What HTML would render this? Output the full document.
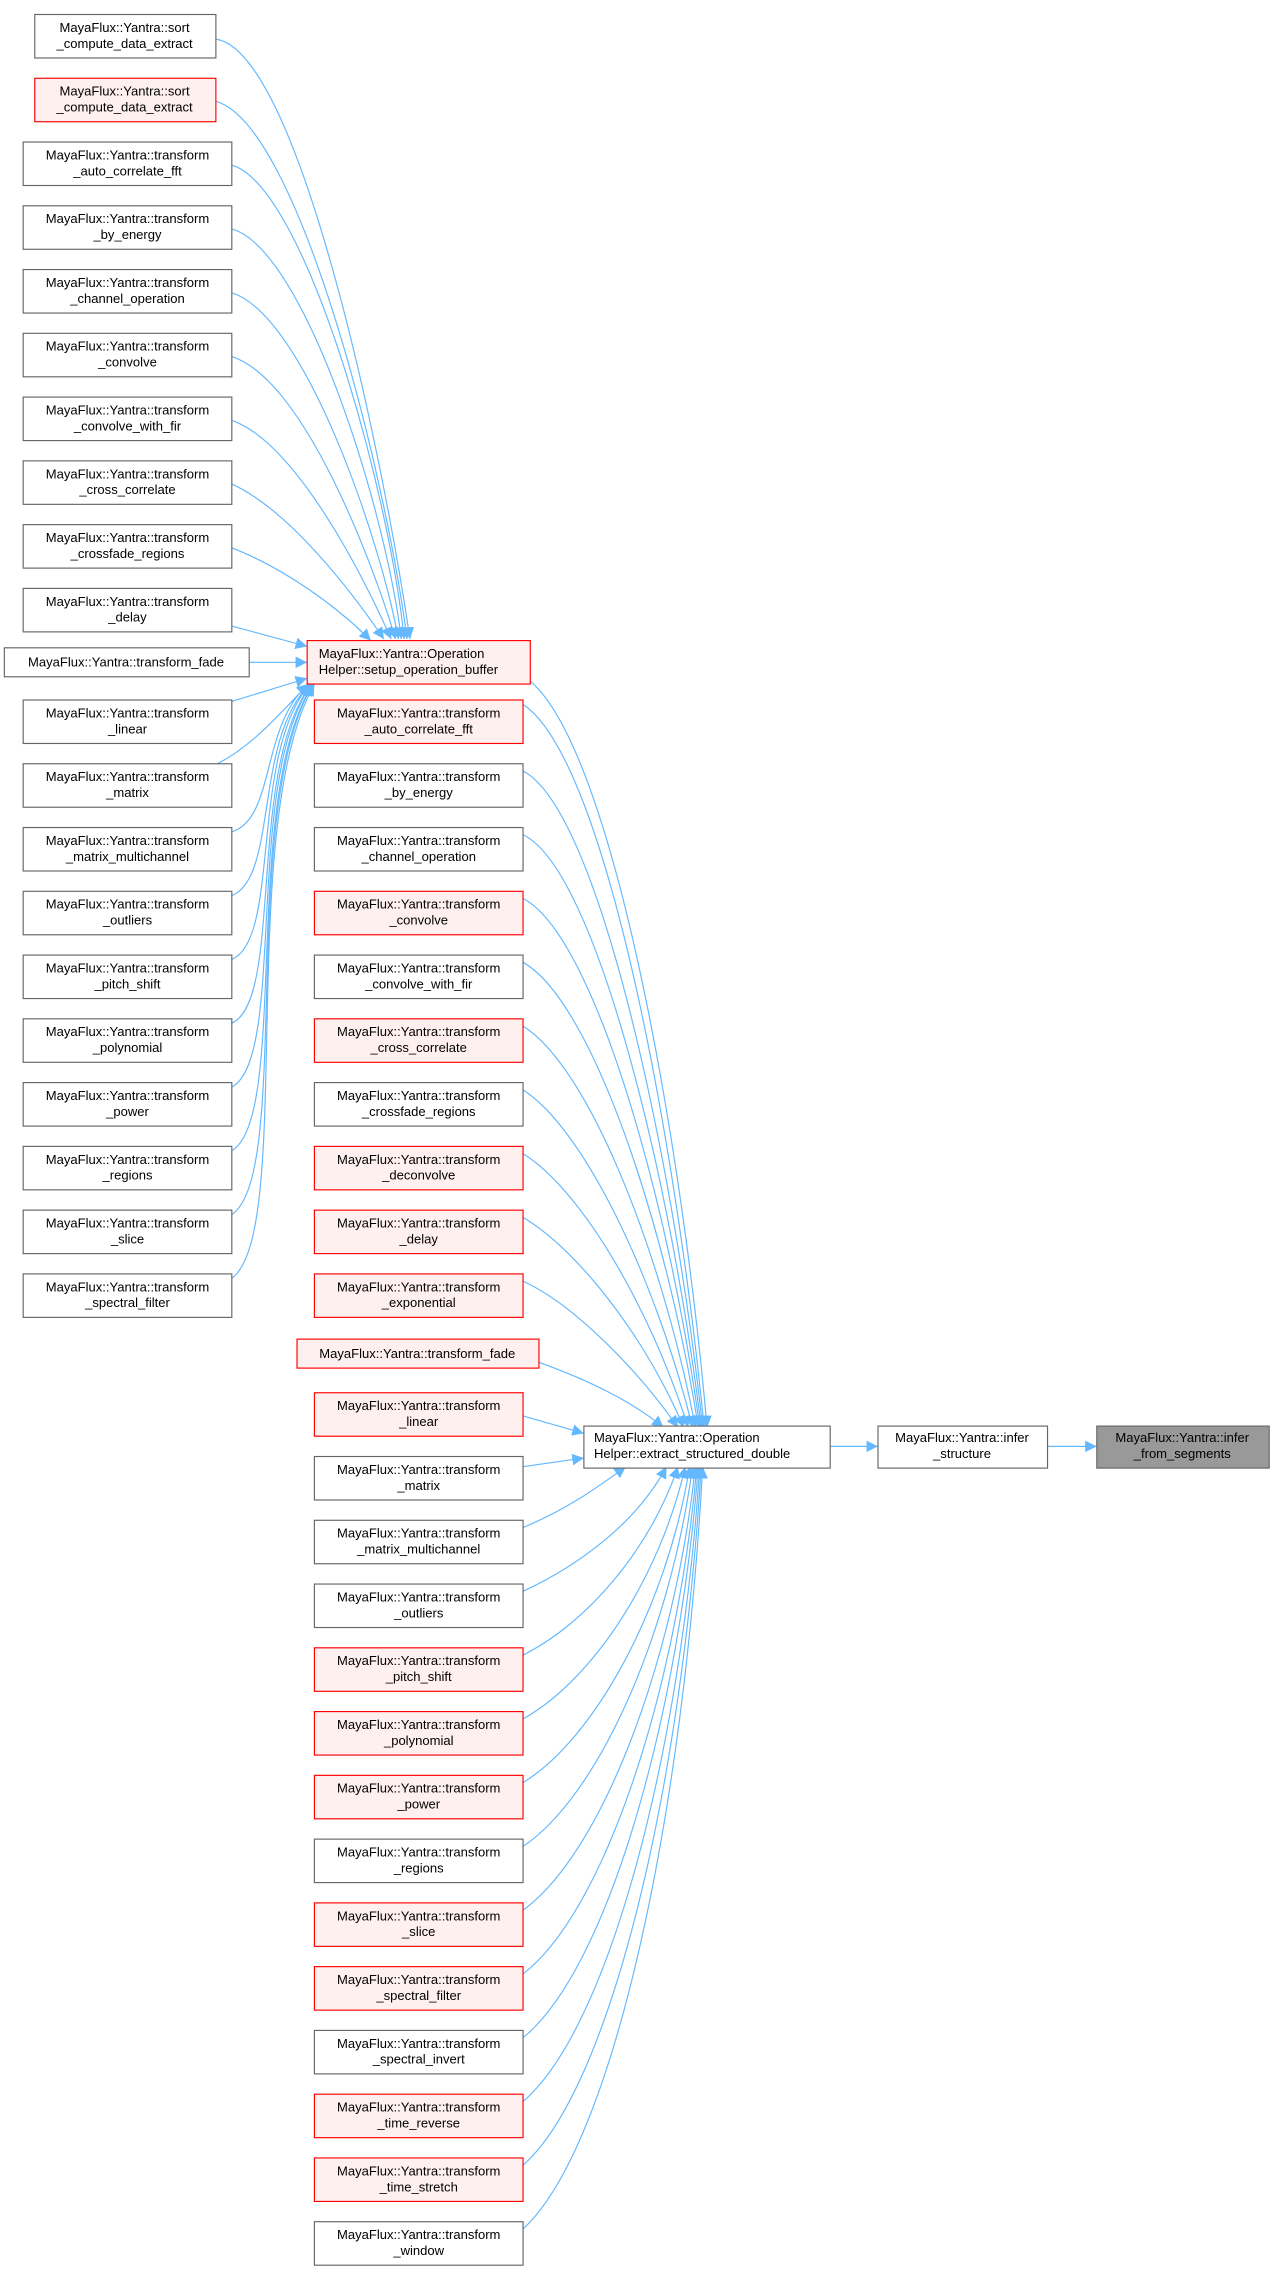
<!DOCTYPE html>
<html><head><meta charset="utf-8"><style>
html,body{margin:0;padding:0;background:#fff;}
svg{display:block;}
text{font-family:"Liberation Sans","DejaVu Sans",sans-serif;font-size:9px;fill:#000;text-anchor:middle;}
.n{fill:#fff;stroke:#666;stroke-width:0.8;}
.r{fill:#fff0f0;stroke:#ff0000;stroke-width:0.8;}
.g{fill:#999;stroke:#666;stroke-width:0.8;}
.e{fill:none;stroke:#63b8ff;stroke-width:0.8;}
</style></head><body>
<svg width="1275" height="2271" viewBox="0 0 880 1567" preserveAspectRatio="none" xmlns="http://www.w3.org/2000/svg">
<defs><marker id="a" markerUnits="userSpaceOnUse" markerWidth="9" markerHeight="8" refX="8" refY="4" orient="auto"><path d="M0,0 L8,4 L0,8 z" fill="#63b8ff"/></marker></defs>

<g class="edges">
<path class="e" marker-end="url(#a)" d="M149,27 C205,35 262,300 283,441"/>
<path class="e" marker-end="url(#a)" d="M149,70 C205,85 265,320 281,441"/>
<path class="e" marker-end="url(#a)" d="M160,114 C210,128 268,335 279,441"/>
<path class="e" marker-end="url(#a)" d="M160,158 C210,172 266,350 277,441"/>
<path class="e" marker-end="url(#a)" d="M160,202 C210,218 262,370 275,441"/>
<path class="e" marker-end="url(#a)" d="M160,246 C210,262 258,390 273,441"/>
<path class="e" marker-end="url(#a)" d="M160,290 C205,306 252,400 270,441"/>
<path class="e" marker-end="url(#a)" d="M160,334 C200,352 244,410 265,441"/>
<path class="e" marker-end="url(#a)" d="M160,378 C196,392 232,418 256,442"/>
<path class="e" marker-end="url(#a)" d="M160,432 L212,446"/>
<path class="e" marker-end="url(#a)" d="M172,457 L212,457"/>
<path class="e" marker-end="url(#a)" d="M160,484 L212,468"/>
<path class="e" marker-end="url(#a)" d="M148,528 C175,515 195,490 213,472"/>
<path class="e" marker-end="url(#a)" d="M160,574 C190,565 180,500 213,472"/>
<path class="e" marker-end="url(#a)" d="M160,618 C192,605 175,510 214,472"/>
<path class="e" marker-end="url(#a)" d="M160,662 C194,648 172,520 214,472"/>
<path class="e" marker-end="url(#a)" d="M160,706 C196,690 170,530 215,472"/>
<path class="e" marker-end="url(#a)" d="M160,750 C198,730 168,540 215,472"/>
<path class="e" marker-end="url(#a)" d="M160,794 C200,770 166,550 216,472"/>
<path class="e" marker-end="url(#a)" d="M160,838 C202,810 164,560 216,472"/>
<path class="e" marker-end="url(#a)" d="M160,882 C204,850 162,570 217,472"/>

<path class="e" marker-end="url(#a)" d="M366,470 C425,520 472,800 488,985"/>
<path class="e" marker-end="url(#a)" d="M361,486 C420,525 468,800 486,985"/>
<path class="e" marker-end="url(#a)" d="M361,532 C415,560 466,810 485,985"/>
<path class="e" marker-end="url(#a)" d="M361,576 C412,600 464,820 484,985"/>
<path class="e" marker-end="url(#a)" d="M361,620 C410,645 462,830 483,985"/>
<path class="e" marker-end="url(#a)" d="M361,664 C408,690 460,845 482,985"/>
<path class="e" marker-end="url(#a)" d="M361,708 C405,735 456,860 480,985"/>
<path class="e" marker-end="url(#a)" d="M361,752 C402,778 452,880 478,985"/>
<path class="e" marker-end="url(#a)" d="M361,796 C400,820 448,900 475,985"/>
<path class="e" marker-end="url(#a)" d="M361,840 C398,862 444,920 472,985"/>
<path class="e" marker-end="url(#a)" d="M361,884 C396,900 440,945 468,985"/>
<path class="e" marker-end="url(#a)" d="M372,940 C405,952 435,966 458,985"/>
<path class="e" marker-end="url(#a)" d="M361,977 L403,989"/>
<path class="e" marker-end="url(#a)" d="M361,1012 L403,1006"/>
<path class="e" marker-end="url(#a)" d="M361,1054 C390,1042 410,1028 432,1012"/>
<path class="e" marker-end="url(#a)" d="M361,1098 C400,1080 440,1050 460,1012"/>
<path class="e" marker-end="url(#a)" d="M361,1142 C405,1120 448,1070 468,1012"/>
<path class="e" marker-end="url(#a)" d="M361,1186 C408,1160 455,1090 473,1012"/>
<path class="e" marker-end="url(#a)" d="M361,1230 C410,1200 460,1110 476,1012"/>
<path class="e" marker-end="url(#a)" d="M361,1274 C412,1240 462,1130 478,1012"/>
<path class="e" marker-end="url(#a)" d="M361,1318 C414,1280 465,1150 480,1012"/>
<path class="e" marker-end="url(#a)" d="M361,1362 C416,1320 467,1170 481,1012"/>
<path class="e" marker-end="url(#a)" d="M361,1406 C418,1360 468,1190 482,1012"/>
<path class="e" marker-end="url(#a)" d="M361,1450 C420,1400 470,1210 483,1012"/>
<path class="e" marker-end="url(#a)" d="M361,1494 C422,1440 471,1230 484,1012"/>
<path class="e" marker-end="url(#a)" d="M361,1538 C424,1480 472,1250 485,1012"/>

<path class="e" marker-end="url(#a)" d="M573,998 L606,998"/>
<path class="e" marker-end="url(#a)" d="M723,998 L757,998"/>
</g>

<!-- left column -->
<rect class="n" x="24" y="10" width="125" height="30"/><text x="86" y="22">MayaFlux::Yantra::sort</text><text x="86" y="33">_compute_data_extract</text>
<rect class="r" x="24" y="54" width="125" height="30"/><text x="86" y="66">MayaFlux::Yantra::sort</text><text x="86" y="77">_compute_data_extract</text>
<rect class="n" x="16" y="98" width="144" height="30"/><text x="88" y="110">MayaFlux::Yantra::transform</text><text x="88" y="121">_auto_correlate_fft</text>
<rect class="n" x="16" y="142" width="144" height="30"/><text x="88" y="154">MayaFlux::Yantra::transform</text><text x="88" y="165">_by_energy</text>
<rect class="n" x="16" y="186" width="144" height="30"/><text x="88" y="198">MayaFlux::Yantra::transform</text><text x="88" y="209">_channel_operation</text>
<rect class="n" x="16" y="230" width="144" height="30"/><text x="88" y="242">MayaFlux::Yantra::transform</text><text x="88" y="253">_convolve</text>
<rect class="n" x="16" y="274" width="144" height="30"/><text x="88" y="286">MayaFlux::Yantra::transform</text><text x="88" y="297">_convolve_with_fir</text>
<rect class="n" x="16" y="318" width="144" height="30"/><text x="88" y="330">MayaFlux::Yantra::transform</text><text x="88" y="341">_cross_correlate</text>
<rect class="n" x="16" y="362" width="144" height="30"/><text x="88" y="374">MayaFlux::Yantra::transform</text><text x="88" y="385">_crossfade_regions</text>
<rect class="n" x="16" y="406" width="144" height="30"/><text x="88" y="418">MayaFlux::Yantra::transform</text><text x="88" y="429">_delay</text>
<rect class="n" x="3" y="447" width="169" height="20"/><text x="87" y="460">MayaFlux::Yantra::transform_fade</text>
<rect class="n" x="16" y="483" width="144" height="30"/><text x="88" y="495">MayaFlux::Yantra::transform</text><text x="88" y="506">_linear</text>
<rect class="n" x="16" y="527" width="144" height="30"/><text x="88" y="539">MayaFlux::Yantra::transform</text><text x="88" y="550">_matrix</text>
<rect class="n" x="16" y="571" width="144" height="30"/><text x="88" y="583">MayaFlux::Yantra::transform</text><text x="88" y="594">_matrix_multichannel</text>
<rect class="n" x="16" y="615" width="144" height="30"/><text x="88" y="627">MayaFlux::Yantra::transform</text><text x="88" y="638">_outliers</text>
<rect class="n" x="16" y="659" width="144" height="30"/><text x="88" y="671">MayaFlux::Yantra::transform</text><text x="88" y="682">_pitch_shift</text>
<rect class="n" x="16" y="703" width="144" height="30"/><text x="88" y="715">MayaFlux::Yantra::transform</text><text x="88" y="726">_polynomial</text>
<rect class="n" x="16" y="747" width="144" height="30"/><text x="88" y="759">MayaFlux::Yantra::transform</text><text x="88" y="770">_power</text>
<rect class="n" x="16" y="791" width="144" height="30"/><text x="88" y="803">MayaFlux::Yantra::transform</text><text x="88" y="814">_regions</text>
<rect class="n" x="16" y="835" width="144" height="30"/><text x="88" y="847">MayaFlux::Yantra::transform</text><text x="88" y="858">_slice</text>
<rect class="n" x="16" y="879" width="144" height="30"/><text x="88" y="891">MayaFlux::Yantra::transform</text><text x="88" y="902">_spectral_filter</text>

<!-- middle column -->
<rect class="r" x="212" y="442" width="154" height="30"/><text x="220" y="454" style="text-anchor:start">MayaFlux::Yantra::Operation</text><text x="220" y="465" style="text-anchor:start">Helper::setup_operation_buffer</text>
<rect class="r" x="217" y="483" width="144" height="30"/><text x="289" y="495">MayaFlux::Yantra::transform</text><text x="289" y="506">_auto_correlate_fft</text>
<rect class="n" x="217" y="527" width="144" height="30"/><text x="289" y="539">MayaFlux::Yantra::transform</text><text x="289" y="550">_by_energy</text>
<rect class="n" x="217" y="571" width="144" height="30"/><text x="289" y="583">MayaFlux::Yantra::transform</text><text x="289" y="594">_channel_operation</text>
<rect class="r" x="217" y="615" width="144" height="30"/><text x="289" y="627">MayaFlux::Yantra::transform</text><text x="289" y="638">_convolve</text>
<rect class="n" x="217" y="659" width="144" height="30"/><text x="289" y="671">MayaFlux::Yantra::transform</text><text x="289" y="682">_convolve_with_fir</text>
<rect class="r" x="217" y="703" width="144" height="30"/><text x="289" y="715">MayaFlux::Yantra::transform</text><text x="289" y="726">_cross_correlate</text>
<rect class="n" x="217" y="747" width="144" height="30"/><text x="289" y="759">MayaFlux::Yantra::transform</text><text x="289" y="770">_crossfade_regions</text>
<rect class="r" x="217" y="791" width="144" height="30"/><text x="289" y="803">MayaFlux::Yantra::transform</text><text x="289" y="814">_deconvolve</text>
<rect class="r" x="217" y="835" width="144" height="30"/><text x="289" y="847">MayaFlux::Yantra::transform</text><text x="289" y="858">_delay</text>
<rect class="r" x="217" y="879" width="144" height="30"/><text x="289" y="891">MayaFlux::Yantra::transform</text><text x="289" y="902">_exponential</text>
<rect class="r" x="205" y="924" width="167" height="20"/><text x="288" y="937">MayaFlux::Yantra::transform_fade</text>
<rect class="r" x="217" y="961" width="144" height="30"/><text x="289" y="973">MayaFlux::Yantra::transform</text><text x="289" y="984">_linear</text>
<rect class="n" x="217" y="1005" width="144" height="30"/><text x="289" y="1017">MayaFlux::Yantra::transform</text><text x="289" y="1028">_matrix</text>
<rect class="n" x="217" y="1049" width="144" height="30"/><text x="289" y="1061">MayaFlux::Yantra::transform</text><text x="289" y="1072">_matrix_multichannel</text>
<rect class="n" x="217" y="1093" width="144" height="30"/><text x="289" y="1105">MayaFlux::Yantra::transform</text><text x="289" y="1116">_outliers</text>
<rect class="r" x="217" y="1137" width="144" height="30"/><text x="289" y="1149">MayaFlux::Yantra::transform</text><text x="289" y="1160">_pitch_shift</text>
<rect class="r" x="217" y="1181" width="144" height="30"/><text x="289" y="1193">MayaFlux::Yantra::transform</text><text x="289" y="1204">_polynomial</text>
<rect class="r" x="217" y="1225" width="144" height="30"/><text x="289" y="1237">MayaFlux::Yantra::transform</text><text x="289" y="1248">_power</text>
<rect class="n" x="217" y="1269" width="144" height="30"/><text x="289" y="1281">MayaFlux::Yantra::transform</text><text x="289" y="1292">_regions</text>
<rect class="r" x="217" y="1313" width="144" height="30"/><text x="289" y="1325">MayaFlux::Yantra::transform</text><text x="289" y="1336">_slice</text>
<rect class="r" x="217" y="1357" width="144" height="30"/><text x="289" y="1369">MayaFlux::Yantra::transform</text><text x="289" y="1380">_spectral_filter</text>
<rect class="n" x="217" y="1401" width="144" height="30"/><text x="289" y="1413">MayaFlux::Yantra::transform</text><text x="289" y="1424">_spectral_invert</text>
<rect class="r" x="217" y="1445" width="144" height="30"/><text x="289" y="1457">MayaFlux::Yantra::transform</text><text x="289" y="1468">_time_reverse</text>
<rect class="r" x="217" y="1489" width="144" height="30"/><text x="289" y="1501">MayaFlux::Yantra::transform</text><text x="289" y="1512">_time_stretch</text>
<rect class="n" x="217" y="1533" width="144" height="30"/><text x="289" y="1545">MayaFlux::Yantra::transform</text><text x="289" y="1556">_window</text>

<!-- right -->
<rect class="n" x="403" y="984" width="170" height="29"/><text x="410" y="995" style="text-anchor:start">MayaFlux::Yantra::Operation</text><text x="410" y="1006" style="text-anchor:start">Helper::extract_structured_double</text>
<rect class="n" x="606" y="984" width="117" height="29"/><text x="664" y="995">MayaFlux::Yantra::infer</text><text x="664" y="1006">_structure</text>
<rect class="g" x="757" y="984" width="119" height="29"/><text x="816" y="995">MayaFlux::Yantra::infer</text><text x="816" y="1006">_from_segments</text>
</svg>
</body></html>
